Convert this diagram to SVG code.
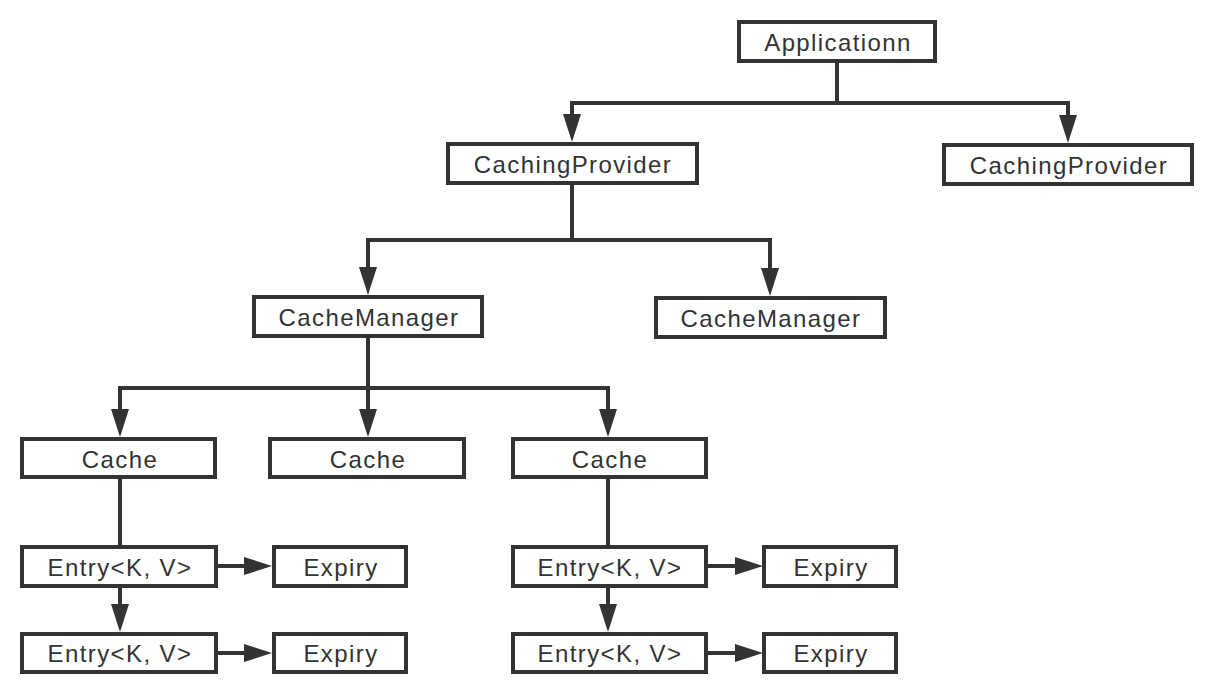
<svg xmlns="http://www.w3.org/2000/svg" width="1210" height="694" viewBox="0 0 1210 694">
<defs>
<style>
.box{fill:#fff;stroke:#333;stroke-width:4}
.lbl{font-family:"Liberation Sans",Arial,sans-serif;font-size:24px;letter-spacing:1.4px;fill:#333;text-anchor:middle}
.ln{fill:none;stroke:#333;stroke-width:4}
.ar{fill:none;stroke:#333;stroke-width:4;marker-end:url(#ah)}
</style>
<marker id="ah" markerUnits="userSpaceOnUse" markerWidth="28" markerHeight="18" refX="8" refY="9" orient="auto" viewBox="0 0 28 18">
<path d="M0,0 L28,9 L0,18 z" fill="#333"/>
</marker>
</defs>
<rect width="1210" height="694" fill="#fff"/>
<g id="connectors">
<path class="ln" d="M837,63 V103 M572,103 H1068"/>
<path class="ar" d="M572,101 V122"/>
<path class="ar" d="M1068,101 V123"/>
<path class="ln" d="M572,185 V240 M368,240 H770"/>
<path class="ar" d="M368,238 V275"/>
<path class="ar" d="M770,238 V276"/>
<path class="ln" d="M368,337 V388 M120,388 H608"/>
<path class="ar" d="M120,386 V417"/>
<path class="ar" d="M368,388 V417"/>
<path class="ar" d="M608,386 V417"/>
<path class="ln" d="M120,477 V546"/>
<path class="ln" d="M608,477 V546"/>
<path class="ar" d="M120,586 V612"/>
<path class="ar" d="M608,586 V612"/>
<path class="ar" d="M217,566 H252"/>
<path class="ar" d="M217,653 H252"/>
<path class="ar" d="M707,566 H743"/>
<path class="ar" d="M707,653 H743"/>
</g>
<g id="app"><rect class="box" x="739" y="22" width="196" height="39"/><text class="lbl" x="838" y="51">Applicationn</text></g>
<g id="cp1"><rect class="box" x="448" y="144" width="249" height="39"/><text class="lbl" x="573" y="173">CachingProvider</text></g>
<g id="cp2"><rect class="box" x="944" y="145" width="248" height="39"/><text class="lbl" x="1069" y="174">CachingProvider</text></g>
<g id="cm1"><rect class="box" x="254" y="297" width="228" height="39"/><text class="lbl" x="369" y="326">CacheManager</text></g>
<g id="cm2"><rect class="box" x="656" y="298" width="229" height="39"/><text class="lbl" x="771" y="327">CacheManager</text></g>
<g id="cache1"><rect class="box" x="22" y="439" width="193" height="38"/><text class="lbl" x="120" y="468">Cache</text></g>
<g id="cache2"><rect class="box" x="270" y="439" width="194" height="38"/><text class="lbl" x="368" y="468">Cache</text></g>
<g id="cache3"><rect class="box" x="513" y="439" width="193" height="38"/><text class="lbl" x="610" y="468">Cache</text></g>
<g id="entry1"><rect class="box" x="22" y="547" width="194" height="39"/><text class="lbl" x="120" y="576">Entry&lt;K, V&gt;</text></g>
<g id="expiry1"><rect class="box" x="274" y="547" width="132" height="39"/><text class="lbl" x="341" y="576">Expiry</text></g>
<g id="entry2"><rect class="box" x="22" y="634" width="194" height="38"/><text class="lbl" x="120" y="662">Entry&lt;K, V&gt;</text></g>
<g id="expiry2"><rect class="box" x="274" y="634" width="132" height="38"/><text class="lbl" x="341" y="662">Expiry</text></g>
<g id="entry3"><rect class="box" x="513" y="547" width="193" height="39"/><text class="lbl" x="610" y="576">Entry&lt;K, V&gt;</text></g>
<g id="expiry3"><rect class="box" x="764" y="547" width="132" height="39"/><text class="lbl" x="831" y="576">Expiry</text></g>
<g id="entry4"><rect class="box" x="513" y="634" width="193" height="38"/><text class="lbl" x="610" y="662">Entry&lt;K, V&gt;</text></g>
<g id="expiry4"><rect class="box" x="764" y="634" width="132" height="38"/><text class="lbl" x="831" y="662">Expiry</text></g>
</svg>
